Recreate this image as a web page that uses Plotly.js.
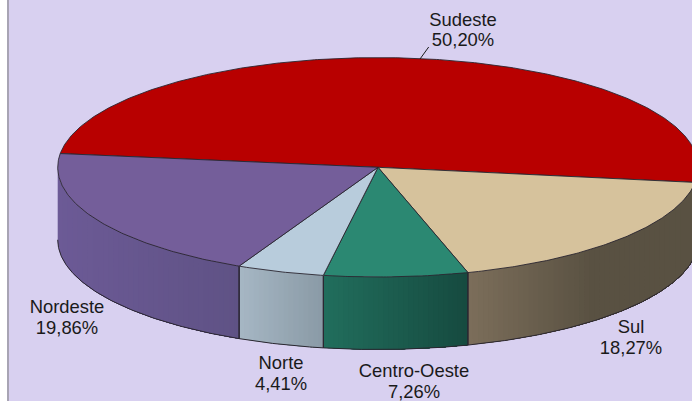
<!DOCTYPE html>
<html>
<head>
<meta charset="utf-8">
<script src="https://cdn.plot.ly/plotly-3.0.1.min.js"></script>
<style>html,body{margin:0;padding:0;background:#fff;overflow:hidden}#chart{width:692px;height:401px}</style>
</head>
<body>
<div id="chart"></div>
<script>
// Data, clockwise from the Sudeste / Nordeste boundary
const regions = ["Sudeste", "Sul", "Centro-Oeste", "Norte", "Nordeste"];
const shares = [50.20, 18.27, 7.26, 4.41, 19.86];

// Colours
const topColors = ["#B80000", "#D6C29C", "#2B8872", "#B8CCDC", "#745E9A"];
const wallFrom = ["#8A0000", "#7C6E5A", "#216E5D", "#A6B7C4", "#6C5A96"];
const wallTo = ["#6E0000", "#595142", "#164A3F", "#8A9AA6", "#5F5285"];
const wallRamp = [1, 0.55, 1, 1, 1];

// Label placement, same order as regions
const labelX = [463, 631, 414, 281, 67];
const nameY = [21, 328, 372, 364, 308];
const shareY = [41.5, 349, 393.5, 385.5, 329.5];

// Pie geometry in the axes' units (pixels)
const cx = 378, cy = 167.3, rx = 320.3, ry = 109.7, depth = 72.5, startDeg = 172.8;

const rad = d => d * Math.PI / 180;
const px = d => cx + rx * Math.cos(rad(d));
const py = d => cy - ry * Math.sin(rad(d));
const hex = c => [1, 3, 5].map(i => parseInt(c.substr(i, 2), 16));
const mix = (a, b, f) => { const A = hex(a), B = hex(b); return "rgb(" + A.map((v, i) => Math.round(v + (B[i] - v) * f)).join(",") + ")"; };
const lineColor = "#2A2630";
const base = {type: "scatter", hoverinfo: "skip", showlegend: false};

const arcs = [];
let angle = startDeg;
shares.forEach(s => { arcs.push([angle, angle - s * 3.6]); angle -= s * 3.6; });

function arc(a, b, dy) {
  const n = Math.max(2, Math.ceil(Math.abs(a - b) * 2));
  const xs = [], ys = [];
  for (let i = 0; i <= n; i++) { const d = a + (b - a) * i / n; xs.push(px(d)); ys.push(py(d) + dy); }
  return [xs, ys];
}
// rim angle (180..360, front of the pie) for a given x
const rimAngle = v => 360 - Math.acos(Math.max(-1, Math.min(1, (v - cx) / rx))) * 180 / Math.PI;

const walls = [], wallLines = [], tops = [];
arcs.forEach((r, k) => {
  const norm = d => (d < 0 ? d + 360 : d);
  let from = Math.min(norm(r[0]), norm(r[1])), to = Math.max(norm(r[0]), norm(r[1]));
  if (k === 0) { from = norm(r[0] - shares[0] * 3.6); to = 360; } // Sudeste rim, beyond the frame
  if (k === 4) { from = 180; }                                     // back of Nordeste rim is hidden
  const x0 = px(from), x1 = px(to), bands = Math.max(4, Math.round(Math.abs(x1 - x0) / 5));
  for (let b = 0; b < bands; b++) {
    // each band runs to the wall's right end; the next one paints over it, leaving no seam
    const a1 = rimAngle(x0 + (x1 - x0) * b / bands);
    const up = arc(a1, to, 0), down = arc(to, a1, depth);
    const col = mix(wallFrom[k], wallTo[k], Math.min(1, ((b + 0.5) / bands) / wallRamp[k]));
    walls.push(Object.assign({}, base, {
      x: up[0].concat(down[0]), y: up[1].concat(down[1]), mode: "none", fill: "toself", fillcolor: col
    }));
  }
  const bottom = arc(from, to, depth);
  wallLines.push(Object.assign({}, base, {x: bottom[0], y: bottom[1], mode: "lines", line: {color: lineColor, width: 1}}));
  [from, to].forEach(d => {
    if (d > 180 && d < 350) wallLines.push(Object.assign({}, base, {x: [px(d), px(d)], y: [py(d), py(d) + depth], mode: "lines", line: {color: lineColor, width: 1}}));
  });
});

arcs.forEach((r, k) => {
  const e = arc(r[0], r[1], 0);
  tops.push(Object.assign({}, base, {
    x: [cx].concat(e[0], [cx]), y: [cy].concat(e[1], [cy]), mode: "lines", fill: "toself",
    fillcolor: topColors[k], line: {color: lineColor, width: 0.9}
  }));
});

const leader = Object.assign({}, base, {x: [420, 428.7], y: [59, 47], mode: "lines", line: {color: "#1A1A1A", width: 1}});
const textFont = {family: "Liberation Sans, Arial, sans-serif", size: 18.4, color: "#1A1A1A"};
const names = Object.assign({}, base, {x: labelX, y: nameY, mode: "text", text: regions, textposition: "middle center", textfont: textFont});
const pct = Object.assign({}, base, {x: labelX, y: shareY, mode: "text", text: shares.map(v => v.toFixed(2).replace(".", ",") + "%"), textposition: "middle center", textfont: textFont});

Plotly.newPlot("chart", walls.concat(wallLines, tops, [leader, names, pct]), {
  width: 692, height: 401, autosize: false,
  margin: {l: 9, r: 0, t: 0, b: 0, pad: 0},
  paper_bgcolor: "#FFFFFF", plot_bgcolor: "#D8D0F0",
  showlegend: false, hovermode: false,
  xaxis: {range: [9, 692], visible: false, fixedrange: true},
  yaxis: {range: [401, 0], fixedrange: true, showgrid: false, zeroline: false, ticks: "", showticklabels: false, showline: true, linecolor: "#A8A4B4", linewidth: 2}
}, {displayModeBar: false, staticPlot: true});
</script>
</body>
</html>
